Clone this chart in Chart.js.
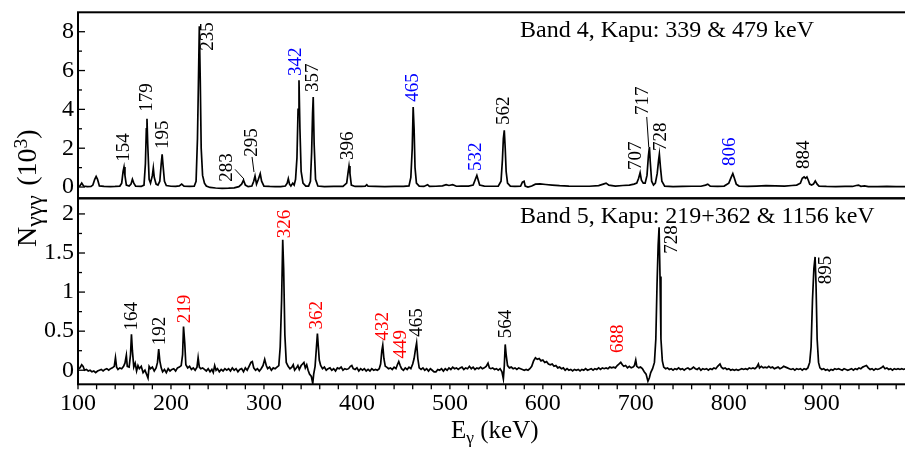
<!DOCTYPE html>
<html>
<head>
<meta charset="utf-8">
<script src="https://cdn.jsdelivr.net/npm/chart.js@4.4.1/dist/chart.umd.min.js"></script>
<style>
  html, body { margin: 0; padding: 0; background: #fff; }
  #wrap { position: relative; width: 905px; height: 449px; overflow: hidden;
          font-family: "Liberation Serif", "DejaVu Serif", serif; color: #000; }
  #wrap canvas { position: absolute; left: 0; top: 0; }
  .txt { position: absolute; white-space: nowrap; line-height: 1; }
  .panel-title { font-size: 24px; left: 520px; }
  .sub { font-size: 0.7em; position: relative; top: 0.3em; }
  .sup { font-size: 0.7em; position: relative; top: -0.45em; }
  #xtitle { font-size: 25px; left: 451px; top: 417px; }
  #ytitle { font-size: 28px; left: 13px; top: 247px; transform: rotate(-90deg); transform-origin: left top; }
  #ytitle .sub { font-size: 0.85em; top: 0.25em; margin-right: 0.1em; }
</style>
</head>
<body>
<div id="wrap">
  <canvas id="band4" width="905" height="449"></canvas>
  <canvas id="band5" width="905" height="449"></canvas>
  <div class="txt panel-title" style="top:16.5px">Band 4, Kapu: 339 &amp; 479 keV</div>
  <div class="txt panel-title" style="top:203px">Band 5, Kapu: 219+362 &amp; 1156 keV</div>
  <div class="txt" id="xtitle">E<span class="sub">γ</span> (keV)</div>
  <div class="txt" id="ytitle">N<span class="sub">γγγ</span> (10<span class="sup">3</span>)</div>
</div>
<script>
// energy axis (keV)
const xMin = 100;
const xMax = 989.5;
const xTicks = [100, 120, 140, 160, 180, 200, 220, 240, 260, 280, 300, 320, 340, 360, 380, 400, 420, 440, 460, 480,
  500, 520, 540, 560, 580, 600, 620, 640, 660, 680, 700, 720, 740, 760, 780, 800, 820, 840, 860, 880, 900, 920, 940, 960, 980];
const xLabelled = [100, 200, 300, 400, 500, 600, 700, 800, 900];

// counts axis (10^3)
const band4Ticks = [0, 1, 2, 3, 4, 5, 6, 7, 8];
const band4Labelled = [0, 2, 4, 6, 8];
const band5Ticks = [0, 0.25, 0.5, 0.75, 1, 1.25, 1.5, 1.75, 2];
const band5Labelled = [0, 0.5, 1, 1.5, 2];

// Band 4 gate spectrum [E, N]
const band4Spectrum = [
  [100, 0.03], [102, 0.05], [104, 0.2], [106, 0.05], [110, 0.02], [114, 0.03], [116, 0.1], [118, 0.4], [119.5, 0.55],
  [121, 0.4], [123, 0.06], [128, 0.03], [135, 0.02], [140, 0.03], [145, 0.05], [147, 0.2], [148.5, 0.8], [149.5, 1.03],
  [150.5, 0.6], [152, 0.1], [155, 0.05], [157, 0.15], [158.5, 0.4], [160, 0.2], [162, 0.04], [168, 0.03], [171, 0.1],
  [172.5, 1.2], [173.5, 3.0], [174.2, 3.52], [175, 2.2], [176.5, 0.4], [178, 0.2], [180, 0.6], [181, 0.98], [182, 0.5],
  [184, 0.15], [186, 0.1], [188, 0.3], [189.5, 1.2], [190.5, 1.68], [191.5, 1.1], [193, 0.3], [195, 0.08], [200, 0.04],
  [205, 0.03], [209, 0.06], [211.5, 0.15], [214, 0.05], [220, 0.03], [225, 0.04], [227, 0.3], [228.5, 2.5], [229.5, 5.3],
  [230.5, 8.28], [231.5, 5.5], [232.5, 2.0], [234, 0.6], [236, 0.2], [238, 0.05], [242, -0.02], [248, -0.05], [255, -0.07],
  [262, -0.06], [268, -0.04], [273, 0.02], [276, 0.15], [278, 0.35], [280, 0.1], [283, 0.02], [287, 0.05], [289, 0.3],
  [290.4, 0.57], [292, 0.15], [294, 0.4], [296, 0.69], [297.5, 0.3], [300, 0.05], [306, 0.03], [312, 0.02], [318, 0.02],
  [323, 0.05], [325, 0.2], [326.2, 0.43], [327.5, 0.15], [329, 0.05], [331, 0.2], [332.5, 0.1], [334, 0.4], [335.5, 1.5],
  [336.7, 4.0], [337.7, 5.5], [338.7, 3.0], [340, 0.8], [342, 0.2], [345, 0.05], [348, 0.05], [350, 0.3], [351.3, 1.8],
  [352.3, 3.8], [353, 4.64], [354, 2.2], [355.5, 0.4], [358, 0.05], [365, 0.02], [375, 0.03], [385, 0.03], [389, 0.2],
  [390.5, 0.75], [391.5, 1.08], [392.5, 0.7], [394, 0.1], [398, 0.03], [405, 0.03], [409, 0.05], [410.6, 0.12], [412, 0.04],
  [420, 0.03], [430, 0.02], [440, 0.03], [450, 0.03], [456, 0.06], [458, 0.5], [459.5, 2.0], [460.5, 4.12], [461.5, 3.0],
  [462.5, 1.0], [464, 0.2], [467, 0.05], [472, 0.03], [476, 0.12], [478, 0.03], [485, 0.04], [492, 0.06], [496, 0.12],
  [499, 0.08], [503, 0.12], [507, 0.04], [512, 0.05], [520, 0.05], [525, 0.1], [527, 0.35], [529, 0.6], [530.5, 0.35],
  [532, 0.1], [537, 0.05], [545, 0.04], [552, 0.05], [555, 0.3], [556.5, 1.4], [557.5, 2.5], [558.5, 2.92], [559.5, 2.0],
  [560.5, 0.8], [562, 0.2], [565, 0.05], [570, 0.03], [576, 0.04], [578, 0.25], [579.8, 0.3], [581, 0.05], [584, 0.0],
  [588, 0.05], [592, 0.15], [597, 0.16], [603, 0.13], [610, 0.1], [618, 0.07], [628, 0.05], [640, 0.04], [650, 0.04],
  [660, 0.07], [665, 0.15], [668, 0.2], [671, 0.1], [678, 0.05], [686, 0.08], [693, 0.1], [698, 0.15], [701, 0.2],
  [703, 0.45], [704.6, 0.74], [706, 0.35], [708, 0.2], [710, 0.2], [712, 0.6], [713.5, 1.6], [714.6, 2.06], [715.5, 1.3],
  [717, 0.3], [719, 0.1], [721, 0.2], [723, 0.7], [724.5, 1.4], [725.3, 1.69], [726.5, 1.0], [728, 0.3], [731, 0.05],
  [740, 0.02], [750, 0.03], [760, 0.04], [770, 0.04], [775, 0.1], [777.4, 0.15], [780, 0.05], [788, 0.03], [795, 0.05],
  [800, 0.2], [802.5, 0.5], [804.3, 0.69], [806, 0.45], [808, 0.15], [811, 0.05], [820, 0.03], [830, 0.05], [840, 0.07],
  [850, 0.06], [860, 0.05], [868, 0.08], [873, 0.1], [877, 0.2], [879, 0.45], [881, 0.52], [882.5, 0.45], [884, 0.52],
  [885.5, 0.35], [887, 0.15], [889, 0.1], [891, 0.15], [893, 0.31], [895, 0.15], [897, 0.05], [905, 0.03], [915, 0.02],
  [925, 0.03], [933, 0.03], [937, 0.08], [939.5, 0.1], [942, 0.04], [946, 0.06], [950, 0.02], [960, 0.02], [970, 0.03],
  [980, 0.02], [990, 0.02]
];

// Band 5 gate spectrum [E, N]
const band5Spectrum = [
  [100, 0.01], [102, 0.03], [104, 0.07], [105.5, 0.05], [107, 0.0], [109, 0.01], [111, -0.01], [113, 0.0], [115, -0.02],
  [117, -0.01], [119, -0.03], [121, -0.01], [123, 0.0], [125, 0.01], [127, -0.01], [129, 0.01], [131, 0.02], [133, 0.0],
  [135, 0.02], [137, 0.03], [139, 0.05], [140.3, 0.16], [141.5, 0.04], [143, 0.01], [145, 0.03], [147, 0.02], [149, 0.05],
  [150.5, 0.09], [152, 0.19], [153, 0.05], [155, 0.04], [156.5, 0.2], [157.5, 0.46], [158.5, 0.25], [160, 0.04],
  [161.5, 0.09], [163, -0.01], [164.5, 0.06], [166, 0.02], [168, 0.05], [170, -0.03], [172, 0.0], [174, -0.06],
  [175.3, -0.1], [176.5, 0.05], [178, 0.02], [180, 0.04], [182, -0.01], [184, 0.03], [185.5, 0.1], [186.8, 0.27],
  [188, 0.12], [189.5, 0.03], [191, -0.02], [193, 0.01], [195, -0.03], [197, 0.02], [199, -0.01], [201, 0.01], [203, 0.02],
  [205, -0.01], [207, 0.03], [209, 0.04], [211, 0.06], [212.5, 0.2], [213.5, 0.56], [214.8, 0.35], [216, 0.07], [218, 0.03],
  [220, 0.05], [222, 0.01], [224, 0.03], [226, 0.0], [228, 0.04], [229.2, 0.16], [230.5, 0.04], [232, 0.02], [234, 0.03],
  [236, 0.01], [238, -0.01], [240, 0.02], [242, -0.02], [244, 0.01], [245.5, -0.03], [247, 0.06], [248.5, 0.0], [250, 0.02],
  [252, -0.02], [254, 0.01], [256, -0.01], [258, 0.02], [260, 0.0], [262, 0.02], [264, -0.01], [266, 0.03], [268, 0.0],
  [270, 0.02], [272, -0.02], [274, 0.01], [276, 0.02], [278, -0.02], [280, 0.03], [282, 0.0], [284, 0.05], [286, 0.1],
  [287.5, 0.11], [289, 0.03], [291, 0.0], [293, 0.02], [295, -0.01], [297, 0.02], [299, 0.06], [300.8, 0.14], [302.5, 0.06],
  [304, 0.02], [306, 0.04], [308, 0.0], [310, 0.03], [312, 0.02], [314, 0.04], [316, 0.06], [317.5, 0.3], [319, 0.9],
  [320.2, 1.67], [321.2, 1.3], [322.5, 0.45], [324, 0.1], [326, 0.05], [328, 0.02], [330, 0.04], [331.5, 0.07], [333, 0.0],
  [335, 0.03], [336.5, 0.06], [338, 0.01], [340, 0.06], [341.5, 0.08], [343, 0.1], [344.5, 0.03], [346, 0.07], [347.5, 0.0],
  [349, -0.05], [351, -0.08], [352.5, -0.17], [353.5, -0.05], [355, 0.05], [356.5, 0.3], [357.5, 0.47], [358.5, 0.3],
  [359.5, 0.13], [361, 0.06], [363, 0.02], [365, 0.04], [367, 0.0], [369, 0.02], [371, 0.03], [373, 0.0], [375, 0.02],
  [377, -0.01], [379, 0.03], [381, 0.02], [383, 0.04], [385, 0.0], [387, 0.02], [389, 0.01], [391, 0.02], [393, 0.05],
  [394.5, 0.06], [396, 0.02], [398, 0.01], [400, 0.03], [402, -0.01], [404, 0.02], [406, 0.0], [408, 0.02], [410, -0.01],
  [412, 0.01], [414, -0.01], [416, 0.02], [418, 0.0], [420, 0.01], [422, 0.0], [424, 0.02], [425.5, 0.08], [426.8, 0.25],
  [427.8, 0.32], [429, 0.15], [430.5, 0.05], [432, 0.04], [434, 0.02], [436, 0.03], [438, 0.01], [440, 0.04], [442, 0.02],
  [443.5, 0.07], [445, 0.11], [446.5, 0.06], [448, 0.02], [450, 0.0], [452, 0.03], [454, 0.01], [456, 0.04], [458, 0.02],
  [460, 0.08], [461.5, 0.15], [463, 0.27], [464.2, 0.35], [465.5, 0.15], [467, 0.03], [469, 0.01], [471, 0.03], [473, 0.0],
  [475, 0.02], [477, -0.01], [479, 0.02], [481, 0.0], [483, -0.02], [485, -0.02], [487, 0.01], [489, 0.0], [491, 0.02],
  [493, -0.01], [495, 0.02], [497, 0.0], [499, 0.03], [501, 0.01], [503, 0.04], [505, 0.02], [507, 0.03], [509, 0.01],
  [511, 0.03], [513, 0.04], [515, 0.01], [517, 0.03], [519, 0.02], [521, 0.05], [523, 0.02], [525, 0.04], [527, 0.01],
  [529, 0.03], [531, 0.02], [533, 0.04], [535, 0.02], [537, 0.03], [539, 0.05], [541, 0.09], [542.5, 0.03], [544, 0.02],
  [546, 0.03], [548, 0.01], [550, 0.02], [552, 0.0], [554, 0.02], [556, -0.02], [557.5, -0.11], [558.5, 0.05], [559.5, 0.33],
  [560.5, 0.2], [562, 0.06], [564, 0.03], [566, 0.04], [568, 0.02], [570, 0.03], [572, 0.01], [574, 0.03], [576, 0.02],
  [578, 0.01], [580, 0.0], [582, 0.01], [584, 0.0], [586, 0.02], [588, 0.05], [590, 0.12], [592, 0.16], [594, 0.14],
  [596, 0.15], [598, 0.12], [600, 0.13], [602, 0.1], [604, 0.11], [606, 0.08], [608, 0.07], [610, 0.08], [612, 0.05],
  [614, 0.06], [616, 0.03], [618, 0.04], [620, 0.02], [622, 0.03], [624, 0.0], [626, 0.02], [628, 0.0], [630, 0.01],
  [632, -0.01], [634, 0.01], [636, 0.0], [638, 0.01], [640, -0.01], [642, 0.01], [644, 0.0], [646, 0.02], [648, 0.0],
  [650, 0.01], [652, 0.02], [654, 0.0], [656, 0.02], [658, 0.01], [660, 0.03], [662, 0.01], [664, 0.03], [666, 0.02],
  [668, 0.03], [670, 0.02], [672, 0.04], [674, 0.03], [676, 0.04], [678, 0.03], [680, 0.06], [682, 0.08], [683.8, 0.1],
  [685.5, 0.07], [687, 0.05], [689, 0.06], [691, 0.03], [693, 0.05], [695, 0.03], [697, 0.04], [698.5, 0.06], [699.9, 0.13],
  [701, 0.05], [703, 0.03], [705, 0.04], [707, 0.02], [709, -0.02], [711, -0.05], [713, -0.14], [714.5, -0.1], [716, -0.03],
  [718, 0.02], [720, 0.1], [721.5, 0.4], [722.8, 1.1], [724, 1.6], [725, 1.83], [726, 1.2], [727, 0.4], [728.5, 0.12],
  [730, 0.04], [732, 0.02], [734, 0.03], [736, 0.01], [738, 0.02], [740, 0.0], [742, 0.02], [744, 0.01], [746, 0.03],
  [748, 0.01], [750, 0.02], [752, 0.0], [754, 0.02], [756, 0.03], [758, 0.01], [760, 0.02], [762, 0.04], [764, 0.02],
  [766, 0.01], [768, 0.03], [770, 0.0], [772, 0.02], [774, 0.01], [776, 0.02], [778, 0.0], [780, 0.02], [782, 0.01],
  [784, 0.03], [786, 0.02], [788, 0.05], [790.5, 0.08], [792, 0.04], [794, 0.02], [796, 0.03], [798, 0.01], [800, 0.02],
  [802, 0.0], [804, 0.01], [806, 0.0], [808, 0.01], [810, 0.0], [812, 0.01], [814, 0.02], [816, 0.01], [818, 0.02],
  [820, 0.01], [822, 0.03], [824, 0.02], [826, 0.03], [828, 0.02], [830, 0.04], [831.8, 0.08], [833, 0.03], [835, 0.05],
  [837, 0.03], [839, 0.04], [841, 0.03], [843, 0.05], [845, 0.03], [847, 0.04], [849, 0.02], [851, 0.03], [853, 0.04],
  [855, 0.02], [857, 0.03], [859, 0.05], [861, 0.04], [863, 0.03], [865, 0.02], [867, 0.01], [869, 0.02], [871, 0.0],
  [873, 0.02], [875, 0.01], [877, 0.02], [879, 0.0], [881, 0.02], [883, 0.01], [885, 0.03], [887, 0.1], [888.5, 0.3],
  [890, 0.9], [891.5, 1.3], [892.8, 1.45], [893.8, 1.1], [895, 0.4], [896.5, 0.1], [898, 0.03], [900, 0.01], [902, 0.02],
  [904, 0.0], [906, 0.01], [908, -0.01], [910, 0.01], [912, 0.0], [914, 0.02], [916, 0.01], [918, 0.02], [920, 0.01],
  [922, 0.0], [924, 0.02], [926, 0.01], [928, 0.0], [930, 0.01], [932, 0.02], [934, 0.0], [936, 0.02], [938, 0.01],
  [940, 0.03], [942, 0.02], [944, 0.04], [946, 0.05], [948, 0.06], [950, 0.03], [952, 0.01], [954, 0.02], [956, 0.0],
  [958, 0.02], [960, 0.01], [962, 0.02], [964, 0.03], [966, 0.05], [968, 0.02], [970, 0.03], [972, 0.01], [974, 0.02],
  [976, 0.0], [978, 0.02], [980, 0.01], [982, 0.02], [984, 0.01], [986, 0.02], [988, 0.01], [990, 0.02]
];

// peak labels: text, energy of the text column, count where the text begins
const band4Labels = ['154', '179', '195', '235', '283', '295', '342', '357', '396', '465', '532', '562', '707', '717', '728', '806', '884'];
const band4LabelE = [149.5, 174.2, 191.4, 239.8, 260.8, 286.9, 334.5, 353.3, 390.4, 460.0, 528.1, 558.3, 700.3, 707.8, 726.9, 801.7, 880.6];
const band4LabelN = [1.30, 3.88, 1.96, 7.02, 0.27, 1.56, 5.72, 4.89, 1.39, 4.39, 0.82, 3.19, 0.88, 3.71, 1.85, 1.08, 0.93];
const band4BlueLabels = ['342', '465', '532', '806'];
// leader lines [E1, N1, E2, N2]
const band4Leaders = [[268.9, 0.91, 278.6, 0.41], [287.2, 1.55, 289.3, 0.77], [711.7, 3.61, 713.9, 2.06]];

const band5Labels = ['164', '192', '219', '326', '362', '432', '449', '465', '564', '688', '728', '895'];
const band5LabelE = [157.8, 187.9, 215.6, 322.7, 357.4, 427.8, 447.1, 464.7, 560.7, 680.4, 739.0, 904.4];
const band5LabelN = [0.51, 0.32, 0.60, 1.69, 0.52, 0.38, 0.15, 0.43, 0.41, 0.22, 1.49, 1.10];
const band5RedLabels = ['219', '326', '362', '432', '449', '688'];

const SERIF = '"Liberation Serif", "DejaVu Serif", serif';

const framePlugin = {
  id: 'frame',
  afterDatasetsDraw(chart, args, opts) {
    const { ctx, chartArea: a } = chart;
    const xs = chart.scales.x;
    const ys = chart.scales.y;
    ctx.save();
    ctx.strokeStyle = '#000';
    ctx.lineWidth = 2;
    ctx.strokeRect(a.left, a.top, a.right - a.left + 4, a.bottom - a.top);

    ctx.lineWidth = 1.3;
    opts.yTicks.forEach(v => {
      const p = ys.getPixelForValue(v);
      const len = opts.yMajor.includes(v) ? 7 : 4;
      ctx.beginPath();
      ctx.moveTo(a.left, p);
      ctx.lineTo(a.left + len, p);
      ctx.stroke();
    });
    if (opts.xTicks) {
      opts.xTicks.forEach(v => {
        const p = xs.getPixelForValue(v);
        ctx.beginPath();
        ctx.moveTo(p, a.bottom);
        ctx.lineTo(p, a.bottom + 5);
        ctx.stroke();
      });
    }

    ctx.lineWidth = 1;
    (opts.leaders || []).forEach(([e1, n1, e2, n2]) => {
      ctx.beginPath();
      ctx.moveTo(xs.getPixelForValue(e1), ys.getPixelForValue(n1));
      ctx.lineTo(xs.getPixelForValue(e2), ys.getPixelForValue(n2));
      ctx.stroke();
    });

    ctx.font = '19px ' + SERIF;
    ctx.textAlign = 'left';
    ctx.textBaseline = 'middle';
    opts.labels.forEach((t, i) => {
      ctx.save();
      ctx.translate(xs.getPixelForValue(opts.labelE[i]), ys.getPixelForValue(opts.labelN[i]));
      ctx.rotate(-Math.PI / 2);
      ctx.fillStyle = opts.colorOf(t);
      ctx.fillText(t, 0, 0);
      ctx.restore();
    });
    ctx.restore();
  }
};

function spectrumDataset(points) {
  return {
    data: points.map(([x, y]) => ({ x, y })),
    borderColor: '#000',
    borderWidth: 1.7,
    pointRadius: 0,
    tension: 0,
    fill: false
  };
}

function yScale(min, max, ticks, labelled) {
  return {
    min, max,
    afterBuildTicks: s => { s.ticks = ticks.map(v => ({ value: v })); },
    afterFit: s => { s.width = 78; s.paddingTop = 0; s.paddingBottom = 0; },
    grid: { display: false, drawTicks: false },
    border: { display: false },
    ticks: {
      autoSkip: false, padding: 4, color: '#000',
      font: { family: SERIF, size: 24 },
      callback: v => labelled.includes(v) ? String(v) : ''
    }
  };
}

new Chart(document.getElementById('band4'), {
  type: 'line',
  data: { datasets: [spectrumDataset(band4Spectrum)] },
  options: {
    responsive: false, animation: false, events: [],
    layout: { padding: { top: 12.3, bottom: 250.7, left: 0, right: 0 } },
    plugins: {
      legend: { display: false }, tooltip: { enabled: false },
      frame: {
        yTicks: band4Ticks, yMajor: band4Labelled, leaders: band4Leaders,
        labels: band4Labels, labelE: band4LabelE, labelN: band4LabelN,
        colorOf: t => band4BlueLabels.includes(t) ? '#0000ff' : '#000'
      }
    },
    scales: {
      x: { type: 'linear', min: xMin, max: xMax, display: false },
      y: yScale(-0.58, 9, band4Ticks, band4Labelled)
    }
  },
  plugins: [framePlugin]
});

new Chart(document.getElementById('band5'), {
  type: 'line',
  data: { datasets: [spectrumDataset(band5Spectrum)] },
  options: {
    responsive: false, animation: false, events: [],
    layout: { padding: { top: 198.3, bottom: 0, left: 0, right: 0 } },
    plugins: {
      legend: { display: false }, tooltip: { enabled: false },
      frame: {
        yTicks: band5Ticks, yMajor: band5Labelled, xTicks: xTicks,
        labels: band5Labels, labelE: band5LabelE, labelN: band5LabelN,
        colorOf: t => band5RedLabels.includes(t) ? '#ff0000' : '#000'
      }
    },
    scales: {
      x: {
        type: 'linear', min: xMin, max: xMax,
        afterBuildTicks: s => { s.ticks = xTicks.map(v => ({ value: v })); },
        afterFit: s => { s.height = 64.7; s.paddingLeft = 0; s.paddingRight = 0; },
        grid: { display: false, drawTicks: false },
        border: { display: false },
        ticks: {
          autoSkip: false, maxRotation: 0, minRotation: 0, padding: 5, color: '#000',
          font: { family: SERIF, size: 24 },
          callback: v => xLabelled.includes(v) ? String(v) : ''
        }
      },
      y: yScale(-0.18, 2.2, band5Ticks, band5Labelled)
    }
  },
  plugins: [framePlugin]
});
</script>
</body>
</html>
